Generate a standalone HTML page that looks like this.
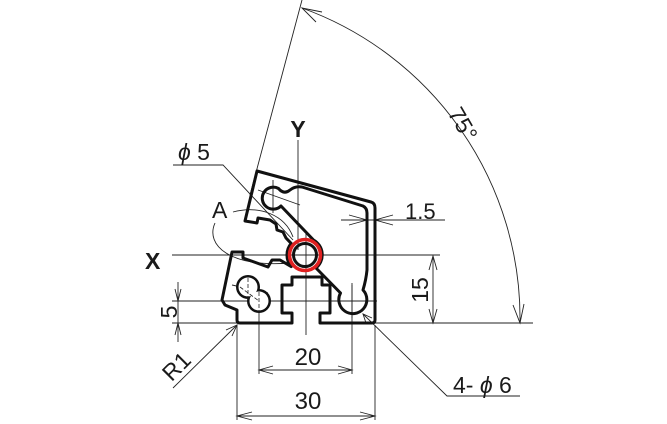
<!DOCTYPE html>
<html><head><meta charset="utf-8"><style>
html,body{margin:0;padding:0;background:#fff;}
svg{display:block;}
text{font-family:"Liberation Sans",sans-serif;fill:#1a1a1a;}
</style></head><body>
<svg width="667" height="424" viewBox="0 0 667 424" xmlns="http://www.w3.org/2000/svg">
<g stroke="#222" stroke-width="0.9" fill="none">
  <line x1="302" y1="0" x2="250" y2="195"/>
  <path d="M302,8 A330,330 0 0 1 520,323"/>
  <polyline points="316,22 302,8 322,12"/>
  <polyline points="513,305 520,323 524,304"/>
  <line x1="375" y1="323" x2="533" y2="323"/>
  <line x1="298" y1="140" x2="298" y2="250"/>
  <line x1="306" y1="232" x2="306" y2="335"/>
  <line x1="172" y1="255" x2="440" y2="255"/>
  <line x1="433" y1="256" x2="433" y2="323"/>
  <polyline points="429,270 433,256 437,270"/>
  <polyline points="429,309 433,323 437,309"/>
  <line x1="341" y1="220" x2="445" y2="220"/>
  <polyline points="349,215 367,220 349,225"/>
  <polyline points="393,215 375,220 393,225"/>
  <line x1="172" y1="301" x2="377" y2="301"/>
  <line x1="172" y1="323" x2="237" y2="323"/>
  <line x1="178" y1="282" x2="178" y2="342"/>
  <polyline points="175,289 178,301 181,289"/>
  <polyline points="175,335 178,323 181,335"/>
  <line x1="259" y1="285" x2="259" y2="374"/>
  <line x1="352" y1="285" x2="352" y2="374"/>
  <line x1="259" y1="370" x2="352" y2="370"/>
  <polyline points="273,366 259,370 273,374"/>
  <polyline points="338,366 352,370 338,374"/>
  <line x1="237" y1="325" x2="237" y2="420"/>
  <line x1="375" y1="325" x2="375" y2="420"/>
  <line x1="237" y1="416" x2="375" y2="416"/>
  <polyline points="252,412 237,416 252,420"/>
  <polyline points="360,412 375,416 360,420"/>
  <line x1="173" y1="388" x2="237" y2="325"/>
  <polyline points="226,330 237,325 232,336"/>
  <polyline points="363,314 447,396 520,396"/>
  <polyline points="366,323 363,314 372,318"/>
  <polyline points="173,165 223,165 293,240"/>
  <path d="M233,212 C260,205 285,215 293,237"/>
  <path d="M215,223 C205,245 230,268 290,263"/>
  <line x1="273" y1="180" x2="273" y2="213"/>
  <line x1="258" y1="190" x2="300" y2="205"/>
  <line x1="232" y1="285" x2="268" y2="293"/>
  <line x1="352" y1="283" x2="352" y2="318"/>
</g>
<g stroke="#111" stroke-width="3" fill="none" stroke-linejoin="round">
  <path d="M257,171 L371,202 Q375,203 375,208 L375,320 Q375,323 372,323 L320,323 L320,313 L330,313 L330,285 L322,285 L322,277 L292,277 L292,285 L282,285 L282,313 L292,313 L292,323 L240,323 Q237,323 237,320 L237,310 L225,305 L222,300 L232,252 L243,252 L243,258 L268,267 L272,260 L280,260 L291.2,266.6 A18,18 0 0 1 291.2,243.4 L286,238 L283,232 L277,230 L276,224 L270,220 L258,218 L257,223 L245,221 Z"/>
  <path d="M278.5,188.5 Q284,195 290,190 Q295,186 302,187 L363,206 Q367,208 367,213 L367,270 Q366,280 363,290 A14,14 0 1 1 340.5,293 L316,268 A17,17 0 0 0 313.5,240 L281,206 A11,11 0 1 1 278.5,188.5 Z"/>
</g>
<g>
  <circle cx="248" cy="287" r="12" fill="#111"/>
  <circle cx="259" cy="301" r="12" fill="#111"/>
  <circle cx="248" cy="287" r="9.5" fill="#fff"/>
  <circle cx="259" cy="301" r="9.5" fill="#fff"/>
  <path d="M240,287 L259,301 M248,278 L248,300 M259,292 L259,312" stroke="#222" stroke-width="0.8" stroke-dasharray="4 2"/>
</g>
<circle cx="305" cy="255" r="15.5" fill="none" stroke="#e02020" stroke-width="3.5"/>
<circle cx="305" cy="255" r="11.5" fill="none" stroke="#111" stroke-width="3"/>
<line x1="296" y1="255" x2="314" y2="255" stroke="#222" stroke-width="0.8"/>
<text x="298" y="137" font-size="23" font-weight="bold" text-anchor="middle">Y</text>
<text x="145" y="269" font-size="23" font-weight="bold">X</text>
<text x="178" y="160" font-size="23"><tspan font-style="italic">ϕ</tspan> 5</text>
<text x="212" y="218" font-size="23">A</text>
<text x="405" y="219" font-size="22">1.5</text>
<text x="308" y="365" font-size="24" text-anchor="middle">20</text>
<text x="308" y="409" font-size="24" text-anchor="middle">30</text>
<text x="453" y="393" font-size="23">4- <tspan font-style="italic">ϕ</tspan> 6</text>
<text transform="translate(428,290) rotate(-90)" font-size="23" text-anchor="middle">15</text>
<text transform="translate(177,312) rotate(-90)" font-size="23" text-anchor="middle">5</text>
<text transform="translate(182,372) rotate(-45)" font-size="23" text-anchor="middle">R1</text>
<text transform="translate(456,128) rotate(60)" font-size="23" text-anchor="middle">75°</text>
</svg>
</body></html>
